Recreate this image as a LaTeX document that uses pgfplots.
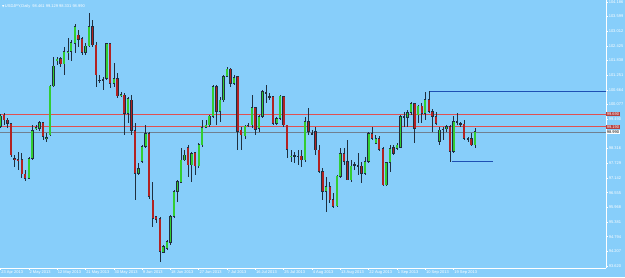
\documentclass[border=0pt]{standalone}
\usepackage{fontspec}
\setmainfont{Liberation Sans}
\newfontfamily\symfont{DejaVu Sans}
\usepackage{pgfplots}
\usepackage{pgfplotstable}
\pgfplotsset{compat=1.18}
\definecolor{bg}{HTML}{87CEFA}
\definecolor{bull}{HTML}{32CD32}
\definecolor{bear}{HTML}{B22222}
\definecolor{wick}{HTML}{1F2F3F}
\definecolor{lvl}{HTML}{E05050}
\definecolor{sr}{HTML}{1E50B4}
\definecolor{bid}{HTML}{708090}

\pgfplotstableread{
k O H L C
0 99.19 99.70 99.13 99.62
1 99.66 99.75 99.26 99.46
2 99.46 99.53 99.13 99.33
3 99.33 99.35 97.99 98.06
4 97.93 98.06 97.59 97.90
5 97.89 98.19 97.46 97.86
6 97.89 98.13 97.13 97.30
7 97.30 97.46 97.03 97.13
8 97.13 98.00 97.09 97.93
9 97.93 99.26 97.86 99.03
10 99.13 99.26 99.06 99.17
11 99.13 99.42 99.03 99.35
12 99.35 99.39 98.66 98.79
13 98.73 98.93 98.59 98.76
14 98.86 100.86 98.82 100.82
15 100.82 101.99 100.77 101.62
16 101.86 101.99 101.66 101.90
17 101.93 101.99 101.59 101.70
18 101.70 102.39 101.26 102.19
19 102.17 102.73 101.86 102.20
20 102.19 102.66 101.83 102.55
21 102.53 103.30 102.13 103.19
22 102.86 103.06 102.39 102.69
23 102.73 102.79 102.06 102.15
24 102.15 102.53 102.06 102.42
25 102.42 103.73 102.39 103.19
26 103.19 103.46 102.39 102.46
27 102.46 102.59 100.79 101.26
28 101.06 101.26 100.93 101.04
29 101.08 101.19 100.66 101.06
30 101.13 102.53 101.06 102.53
31 102.53 102.53 100.73 100.93
32 100.93 101.73 100.79 101.13
33 101.13 101.33 100.33 100.42
34 100.46 100.59 100.37 100.49
35 100.46 100.53 98.86 99.73
36 99.73 100.39 99.33 100.33
37 100.26 100.46 98.86 99.03
38 99.03 99.33 96.26 97.33
39 97.33 97.73 97.26 97.53
40 97.79 98.46 97.73 98.39
41 98.39 99.26 98.33 98.93
42 98.93 99.00 96.30 96.40
43 96.26 96.99 95.19 95.53
44 95.59 95.62 95.33 95.49
45 95.53 95.59 93.79 94.19
46 94.15 94.46 94.13 94.39
47 94.33 94.66 94.26 94.59
48 94.55 95.66 94.46 95.59
49 95.59 96.66 95.53 96.59
50 96.59 97.06 96.19 96.99
51 96.95 98.33 96.93 97.86
52 97.86 98.26 97.83 98.06
53 98.37 98.46 97.19 97.66
54 97.66 98.19 96.99 98.13
55 98.15 98.19 97.26 97.62
56 97.62 98.53 97.53 98.49
57 98.46 99.46 98.39 99.15
58 99.17 99.46 99.13 99.26
59 99.26 99.66 99.19 99.62
60 99.59 100.86 99.53 100.79
61 100.79 100.86 99.26 99.79
62 99.79 100.39 99.39 100.26
63 100.26 101.26 100.19 101.19
64 101.19 101.57 101.17 101.50
65 101.50 101.53 100.79 100.93
66 100.93 101.26 100.86 101.17
67 101.19 101.19 98.26 98.99
68 99.06 99.19 98.26 98.86
69 98.82 99.26 98.69 99.22
70 99.24 99.33 99.19 99.26
71 99.26 100.46 99.13 99.97
72 99.97 99.99 98.86 99.09
73 99.13 99.66 98.99 99.59
74 99.59 100.66 99.53 100.59
75 100.55 100.86 100.13 100.57
76 100.39 100.53 100.26 100.41
77 100.39 100.42 99.26 99.33
78 99.33 99.59 99.26 99.53
79 99.53 100.46 99.46 100.42
80 100.39 100.42 99.19 99.26
81 99.26 99.26 97.93 98.29
82 97.99 98.26 97.79 98.02
83 98.04 98.19 97.73 98.02
84 98.00 98.26 97.66 98.02
85 98.02 98.26 97.59 97.86
86 97.86 99.59 97.79 99.41
87 99.41 99.93 98.86 98.99
88 98.93 99.06 98.86 98.91
89 98.99 99.19 98.06 98.26
90 98.26 98.46 97.33 97.39
91 97.39 97.53 96.26 96.59
92 96.59 97.19 95.79 96.79
93 96.79 96.99 96.13 96.26
94 96.29 96.53 95.93 95.99
95 96.02 97.26 95.99 97.22
96 97.19 98.33 97.13 98.13
97 98.13 98.33 97.66 97.79
98 97.79 98.66 97.06 97.06
99 97.06 97.86 96.99 97.62
100 97.66 97.79 97.46 97.68
101 97.62 98.13 97.26 97.64
102 97.62 97.79 96.93 97.33
103 97.33 97.99 97.26 97.79
104 97.79 98.99 97.75 98.93
105 98.93 99.19 98.66 98.73
106 98.53 98.86 98.50 98.73
107 98.73 98.82 98.23 98.29
108 98.33 98.37 96.82 96.86
109 96.86 97.79 96.82 97.75
110 97.75 98.46 97.39 98.33
111 98.37 98.46 98.06 98.13
112 98.33 98.53 98.26 98.46
113 98.37 99.66 98.33 99.59
114 99.57 99.79 99.19 99.59
115 99.57 99.86 99.19 99.75
116 99.75 100.19 99.66 100.13
117 100.13 100.13 98.55 99.13
118 99.66 100.06 99.33 100.02
119 100.02 100.13 99.33 99.73
120 99.73 100.59 99.46 100.29
121 100.29 100.61 99.73 99.79
122 99.79 99.89 98.99 99.59
123 99.59 99.79 99.26 99.33
124 98.59 99.19 98.46 99.06
125 99.08 99.19 98.66 99.10
126 99.10 99.26 99.00 99.19
127 99.19 99.26 97.79 98.19
128 98.19 99.62 98.13 99.39
129 99.38 99.73 99.26 99.40
130 99.30 99.39 99.19 99.32
131 99.30 99.46 98.66 98.73
132 98.71 98.79 98.59 98.69
133 98.73 98.93 98.42 98.46
134 98.46 99.13 98.33 98.99
}\candles

\begin{document}
\begin{tikzpicture}
\path[use as bounding box, fill=bg] (0,-9pt) rectangle (625pt,268pt);
\begin{axis}[
  at={(0,0)}, anchor=south west,
  scale only axis, width=606pt, height=268pt,
  xmin=-0.141, xmax=171.05, ymin=93.54, ymax=104.26,
  clip mode=individual,
  axis x line*=bottom, axis y line*=right,
  axis line style={white, line width=0.6pt, -},
  tick style={white, line width=0.5pt},
  tick align=outside, major tick length=2pt,
  xtick={0,8,...,128},
  xticklabels={23 Apr 2013, 2 May 2013, 12 May 2013, 21 May 2013, 30 May 2013, 9 Jun 2013, 18 Jun 2013, 27 Jun 2013, 7 Jul 2013, 16 Jul 2013, 25 Jul 2013, 4 Aug 2013, 13 Aug 2013, 22 Aug 2013, 1 Sep 2013, 10 Sep 2013, 19 Sep 2013},
  xticklabel style={anchor=north west, inner sep=0.6pt, text=white, font=\fontsize{4}{4.5}\selectfont, yshift=0.5pt},
  ytick={93.620,94.207,94.794,95.381,95.968,96.555,97.142,97.729,98.316,99.490,100.077,100.664,101.251,101.838,102.425,103.012,103.599,104.186},
  yticklabels={93.620,94.207,94.794,95.381,95.968,96.555,97.142,97.729,98.316,99.490,100.077,100.664,101.251,101.838,102.425,103.012,103.599,104.186},
  yticklabel style={anchor=west, inner sep=0.6pt, text=white, font=\fontsize{4}{4.5}\selectfont},
]
% level lines
\addplot[lvl, line width=0.6pt, no marks] coordinates {(-1,99.69) (172,99.69)};
\addplot[lvl, line width=0.6pt, no marks] coordinates {(-1,99.19) (172,99.19)};
\addplot[bid, line width=0.5pt, no marks] coordinates {(-1,98.99) (172,98.99)};
\addplot[sr, line width=0.6pt, no marks] coordinates {(121,100.61) (172,100.61)};
\addplot[sr, line width=0.6pt, no marks] coordinates {(127.5,97.79) (139,97.79)};
% wicks
\addplot[draw=none, mark=none, error bars/.cd, y dir=both, y explicit,
  error mark=none, error bar style={draw=wick, line width=0.5pt}]
  table[x=k, y expr={(\thisrow{H}+\thisrow{L})/2}, y error expr={(\thisrow{H}-\thisrow{L})/2}] {\candles};
% body outlines
\addplot[draw=none, mark=none, error bars/.cd, y dir=both, y explicit,
  error mark=none, error bar style={draw=wick, line width=2.4pt}]
  table[x=k, y expr={(\thisrow{O}+\thisrow{C})/2}, y error expr={abs(\thisrow{C}-\thisrow{O})/2+0.012}] {\candles};
% bull bodies (zero length where the candle is bearish)
\addplot[draw=none, mark=none,
  error bars/.cd, y dir=both, y explicit,
  error mark=none, error bar style={draw=bull, line width=1.8pt}]
  table[x=k, y expr={(\thisrow{O}+\thisrow{C})/2}, y error expr={max((\thisrow{C}-\thisrow{O})/2-0.012,0)}] {\candles};
% bear bodies (zero length where the candle is bullish)
\addplot[draw=none, mark=none,
  error bars/.cd, y dir=both, y explicit,
  error mark=none, error bar style={draw=bear, line width=1.8pt}]
  table[x=k, y expr={(\thisrow{O}+\thisrow{C})/2}, y error expr={max((\thisrow{O}-\thisrow{C})/2-0.012,0)}] {\candles};
% title
\node[anchor=north west, text=white, inner sep=0pt, font=\fontsize{4}{4.5}\selectfont] at (rel axis cs:0.003,0.985) {{\symfont\fontsize{3}{3}\selectfont ▼}\,USDJPY,Daily\ \ 98.461 99.129 98.331 98.990};
% price boxes on the right scale
\node[anchor=west, fill=lvl!80!black, text=white, inner sep=0.6pt, font=\fontsize{4}{4.5}\selectfont] at (axis cs:171.05,99.69) {99.690};
\node[anchor=west, fill=lvl!80!black, text=white, inner sep=0.6pt, font=\fontsize{4}{4.5}\selectfont] at (axis cs:171.05,99.19) {99.190};
\node[anchor=west, fill=white, text=black, inner sep=0.6pt, font=\fontsize{4}{4.5}\selectfont] at (axis cs:171.05,98.99) {98.990};
\end{axis}
\end{tikzpicture}
\end{document}
